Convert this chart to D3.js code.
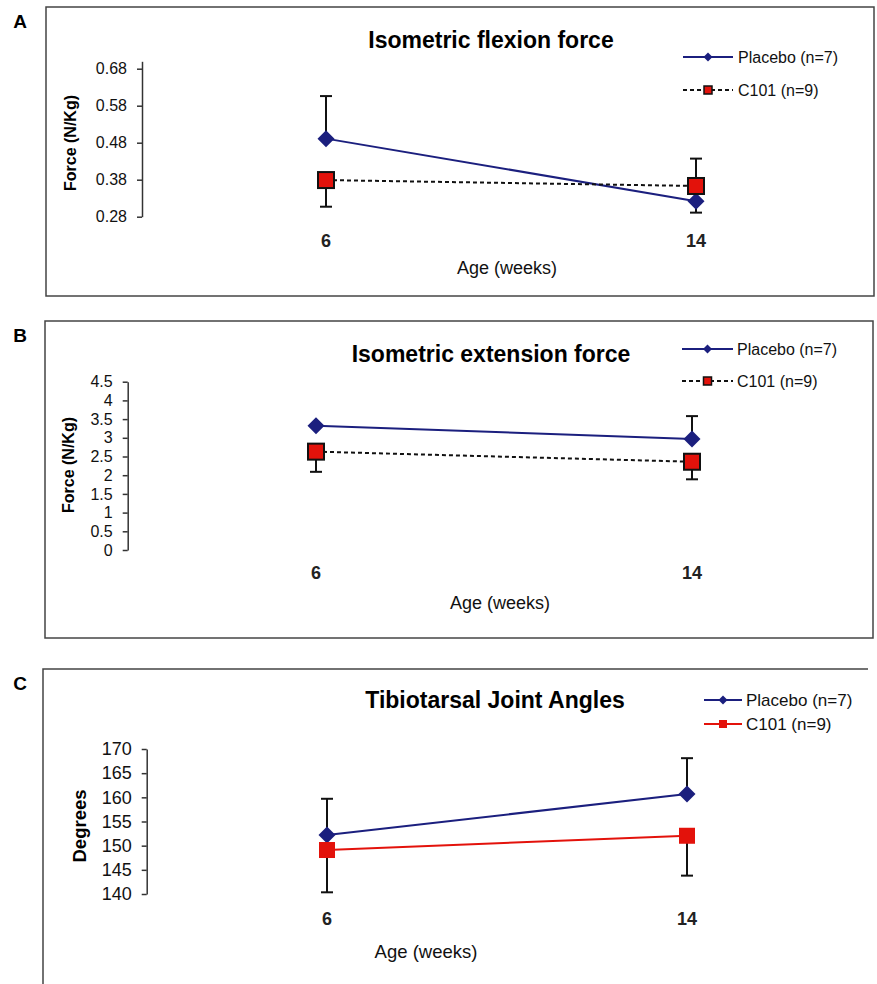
<!DOCTYPE html>
<html>
  <head>
    <meta charset="UTF-8" />
    <script src="https://d3js.org/d3.v7.min.js"></script>
    <style>
      body { margin: 0; background: #fff; }
      text { font-family: Arial, "Liberation Sans", sans-serif; }
    </style>
  </head>
  <body>
    <div id="figure"></div>
    <script>
      // ages (weeks) on the x axis
      const ages = [6, 14];
      const seriesNames = ["Placebo (n=7)", "C101 (n=9)"];

      // A - isometric flexion force
      const flexPlacebo = [0.491, 0.322];
      const flexPlaceboUp = [0.115, 0];
      const flexPlaceboDown = [0, 0.031];
      const flexC101 = [0.379, 0.363];
      const flexC101Up = [0, 0.074];
      const flexC101Down = [0.072, 0];
      const flexTicks = [0.28, 0.38, 0.48, 0.58, 0.68];

      // B - isometric extension force
      const extPlacebo = [3.32, 2.97];
      const extPlaceboUp = [0, 0.61];
      const extPlaceboDown = [0, 0];
      const extC101 = [2.63, 2.36];
      const extC101Up = [0, 0];
      const extC101Down = [0.54, 0.47];
      const extTicks = [0, 0.5, 1, 1.5, 2, 2.5, 3, 3.5, 4, 4.5];

      // C - tibiotarsal joint angles
      const anglePlacebo = [152.2, 160.7];
      const anglePlaceboUp = [7.5, 7.4];
      const anglePlaceboDown = [0, 0];
      const angleC101 = [149.1, 152.05];
      const angleC101Up = [0, 0];
      const angleC101Down = [8.75, 8.25];
      const angleTicks = [140, 145, 150, 155, 160, 165, 170];

      const blue = "#1b1f7e", red = "#e3120b";
      const width = 877, height = 984;

      const svg = d3.select("#figure").append("svg")
        .attr("width", width).attr("height", height);

      function zip(vals, up, down) {
        return ages.map((a, i) => ({ age: a, v: vals[i], up: up[i], down: down[i] }));
      }

      function drawPanel(p) {
        const g = svg.append("g");

        // frame
        if (p.openFrame) {
          g.append("path")
            .attr("d", `M${p.box[0]},${height} V${p.box[1]} H${p.box[2]}`)
            .attr("fill", "none").attr("stroke", "#444").attr("stroke-width", 1.5);
        } else {
          g.append("rect")
            .attr("x", p.box[0]).attr("y", p.box[1])
            .attr("width", p.box[2] - p.box[0]).attr("height", p.box[3] - p.box[1])
            .attr("fill", "none").attr("stroke", "#444").attr("stroke-width", 1.5);
        }

        g.append("text").attr("x", 20).attr("y", p.box[1] + 21)
          .attr("text-anchor", "middle").style("font-size", "19px").style("font-weight", "bold")
          .text(p.letter);

        g.append("text").attr("x", p.title[0]).attr("y", p.title[1])
          .attr("text-anchor", "middle").style("font-size", p.titleSize + "px").style("font-weight", "bold")
          .text(p.titleText);

        const x = d3.scaleLinear().domain(ages).range(p.xRange);
        const y = d3.scaleLinear().domain(p.yDomain).range(p.yRange);

        const axis = g.append("g")
          .attr("transform", `translate(${p.axisX},0)`)
          .call(d3.axisLeft(y).tickValues(p.ticks).tickSize(5).tickSizeOuter(0).tickPadding(10)
            .tickFormat(p.fmt));
        axis.select(".domain").attr("stroke", "#333").attr("stroke-width", 1.5);
        axis.selectAll(".tick line").attr("stroke", "#333").attr("stroke-width", 1.5);
        axis.selectAll("text").attr("fill", "#111")
          .style("font-size", p.tickSize + "px").style("font-family", "Arial, 'Liberation Sans', sans-serif");

        g.append("text")
          .attr("transform", `translate(${p.yLabel[0]},${p.yLabel[1]}) rotate(-90)`)
          .attr("text-anchor", "middle").attr("dy", "0.35em")
          .style("font-size", p.yLabelSize + "px").style("font-weight", "bold")
          .text(p.yLabelText);

        g.selectAll(".xt").data(ages).join("text")
          .attr("x", d => x(d)).attr("y", p.xTickY)
          .attr("text-anchor", "middle").attr("fill", "#222")
          .style("font-size", p.xTickSize + "px").style("font-weight", "bold")
          .text(d => d);

        g.append("text").attr("x", p.ageLabel[0]).attr("y", p.ageLabel[1])
          .attr("text-anchor", "middle").attr("fill", "#111")
          .style("font-size", p.ageSize + "px")
          .text("Age (weeks)");

        const line = d3.line().x(d => x(d.age)).y(d => y(d.v));

        p.series.forEach(s => {
          g.append("path").datum(s.data)
            .attr("d", line).attr("fill", "none")
            .attr("stroke", s.color).attr("stroke-width", 2)
            .attr("stroke-dasharray", s.dashed ? "4,3" : null);
        });

        // error bars
        p.series.forEach(s => {
          s.data.forEach(d => {
            [[d.up, 1], [d.down, -1]].forEach(([e, sign]) => {
              if (!e) return;
              const cx = x(d.age), y0 = y(d.v), y1 = y(d.v + sign * e);
              g.append("line").attr("x1", cx).attr("x2", cx).attr("y1", y0).attr("y2", y1)
                .attr("stroke", "#111").attr("stroke-width", 2);
              g.append("line").attr("x1", cx - 6).attr("x2", cx + 6).attr("y1", y1).attr("y2", y1)
                .attr("stroke", "#111").attr("stroke-width", 2);
            });
          });
        });

        // markers
        p.series.forEach(s => {
          s.data.forEach(d => {
            const cx = x(d.age), cy = y(d.v);
            if (s.marker === "diamond") {
              const r = 8.5;
              g.append("path")
                .attr("d", `M${cx},${cy - r}L${cx + r},${cy}L${cx},${cy + r}L${cx - r},${cy}Z`)
                .attr("fill", s.color);
            } else {
              const r = 8;
              g.append("rect").attr("x", cx - r).attr("y", cy - r)
                .attr("width", 2 * r).attr("height", 2 * r)
                .attr("fill", red)
                .attr("stroke", s.outlined ? "#111" : "none").attr("stroke-width", 2);
            }
          });
        });

        // legend
        p.series.forEach((s, i) => {
          const ly = p.legendY[i], x0 = p.legendX[0], x1 = p.legendX[1], xm = (x0 + x1) / 2;
          g.append("line").attr("x1", x0).attr("x2", x1).attr("y1", ly).attr("y2", ly)
            .attr("stroke", s.color).attr("stroke-width", 2)
            .attr("stroke-dasharray", s.dashed ? "4,3" : null);
          if (s.marker === "diamond") {
            const r = 4.5;
            g.append("path")
              .attr("d", `M${xm},${ly - r}L${xm + r},${ly}L${xm},${ly + r}L${xm - r},${ly}Z`)
              .attr("fill", s.color);
          } else {
            const r = 4;
            g.append("rect").attr("x", xm - r).attr("y", ly - r).attr("width", 2 * r).attr("height", 2 * r)
              .attr("fill", red).attr("stroke", s.outlined ? "#111" : "none").attr("stroke-width", 1.5);
          }
          g.append("text").attr("x", p.legendText).attr("y", ly).attr("dy", "0.36em")
            .attr("fill", "#111").style("font-size", p.legendSize + "px")
            .text(seriesNames[i]);
        });
      }

      drawPanel({
        letter: "A", box: [46, 7, 874, 296],
        titleText: "Isometric flexion force", title: [491, 48], titleSize: 23,
        xRange: [326, 696], yDomain: [0.28, 0.70], yRange: [216.7, 61.3],
        ticks: flexTicks, fmt: d3.format(".2f"), axisX: 142, tickSize: 16,
        yLabelText: "Force (N/Kg)", yLabel: [70, 143], yLabelSize: 16,
        xTickY: 247, xTickSize: 18, ageLabel: [507, 274], ageSize: 18,
        legendY: [57, 90], legendX: [683, 733], legendText: 738, legendSize: 16,
        series: [
          { data: zip(flexPlacebo, flexPlaceboUp, flexPlaceboDown), color: blue, marker: "diamond" },
          { data: zip(flexC101, flexC101Up, flexC101Down), color: "#111", marker: "square", dashed: true, outlined: true }
        ]
      });

      drawPanel({
        letter: "B", box: [45, 321, 873, 638],
        titleText: "Isometric extension force", title: [491, 362], titleSize: 23,
        xRange: [316, 692], yDomain: [0, 4.5], yRange: [550, 381.7],
        ticks: extTicks, fmt: d3.format("~g"), axisX: 127.7, tickSize: 16,
        yLabelText: "Force (N/Kg)", yLabel: [68, 465], yLabelSize: 16,
        xTickY: 579, xTickSize: 18, ageLabel: [500, 609], ageSize: 18,
        legendY: [349, 381], legendX: [682, 733], legendText: 737, legendSize: 16,
        series: [
          { data: zip(extPlacebo, extPlaceboUp, extPlaceboDown), color: blue, marker: "diamond" },
          { data: zip(extC101, extC101Up, extC101Down), color: "#111", marker: "square", dashed: true, outlined: true }
        ]
      });

      drawPanel({
        letter: "C", box: [43, 669, 868, 984], openFrame: true,
        titleText: "Tibiotarsal Joint Angles", title: [495, 708], titleSize: 23,
        xRange: [327, 687], yDomain: [140, 170], yRange: [894, 749],
        ticks: angleTicks, fmt: d3.format("d"), axisX: 146.7, tickSize: 18,
        yLabelText: "Degrees", yLabel: [80, 826], yLabelSize: 18.5,
        xTickY: 925, xTickSize: 18, ageLabel: [426, 958], ageSize: 18.5,
        legendY: [700, 724], legendX: [704, 742], legendText: 746, legendSize: 17,
        series: [
          { data: zip(anglePlacebo, anglePlaceboUp, anglePlaceboDown), color: blue, marker: "diamond" },
          { data: zip(angleC101, angleC101Up, angleC101Down), color: red, marker: "square" }
        ]
      });
    </script>
  </body>
</html>
